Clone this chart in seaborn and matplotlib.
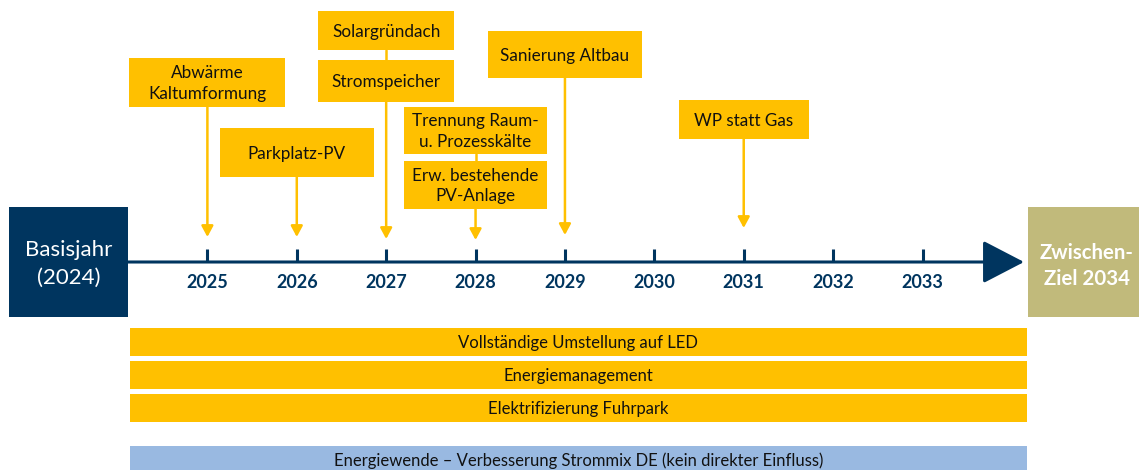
import matplotlib
matplotlib.use("Agg")
import matplotlib.pyplot as plt
import seaborn as sns
import numpy as np
from matplotlib.patches import ArrowStyle

# ---------------- data ----------------
years = [2025, 2026, 2027, 2028, 2029, 2030, 2031, 2032, 2033]
start_label = "Basisjahr\n(2024)"
goal_label = "Zwischen-\nZiel 2034"

event_labels = ["Abwärme\nKaltumformung", "Parkplatz-PV", "Solargründach", "Stromspeicher",
                "Trennung Raum-\nu. Prozesskälte", "Erw. bestehende\nPV-Anlage",
                "Sanierung Altbau", "WP statt Gas"]
event_years = [2025, 2026, 2027, 2027, 2028, 2028, 2029, 2031]

span_labels = ["Vollständige Umstellung auf LED", "Energiemanagement",
               "Elektrifizierung Fuhrpark",
               "Energiewende – Verbesserung Strommix DE (kein direkter Einfluss)"]
span_start = [2024.13, 2024.13, 2024.13, 2024.13]
span_end = [2034.17, 2034.17, 2034.17, 2034.17]

# ---------------- layout / style ----------------
PX_PER_YEAR = 89.39
X0_PX = 118.0           # pixel position of 2024
W, H = 1139, 470
NAVY = "#00355F"
YELLOW = "#FFC000"
OLIVE = "#C1BA7B"
LIGHTBLUE = "#99B9E1"
TXT = "#111111"

def px_w(p):
    return p / PX_PER_YEAR

def px_x(p):
    return 2024 + (p - X0_PX) / PX_PER_YEAR

# event boxes: width(px), top(px), bottom(px)
box_w = [156, 154, 136, 136, 143, 143, 154, 130]
box_top = [58, 128, 11, 60, 107, 161, 31, 100]
box_bot = [107, 177, 50, 102, 154, 209, 78, 139]
arrow_tip = {2025: 237, 2026: 237, 2027: 239, 2028: 240, 2029: 235, 2031: 228}

span_center = [342, 375, 408, 460]
span_colors = [YELLOW, YELLOW, YELLOW, LIGHTBLUE]
SPAN_H = 28

LINE_Y = 262
TICK_TOP = 249
LABEL_Y = 283

sns.set_theme(style="white")
plt.rcParams["font.family"] = ["Lato", "DejaVu Sans"]

fig = plt.figure(figsize=(W / 100, H / 100), dpi=100)
ax = fig.add_axes([0, 0, 1, 1])
ax.set_xlim(px_x(0), px_x(W))
ax.set_ylim(H, 0)
ax.axis("off")

# start / goal boxes
ax.bar(px_x(9), 110, width=px_w(119), bottom=207, align="edge", color=NAVY, lw=0)
ax.text(px_x(69), 264, start_label, ha="center", va="center", color="white",
        fontsize=16, linespacing=1.45)
ax.bar(px_x(1028), 110, width=px_w(120), bottom=207, align="edge", color=OLIVE, lw=0)
ax.text(px_x(1087), 266, goal_label, ha="center", va="center", color="white",
        fontsize=14.7, fontweight="bold", linespacing=1.4)

# timeline line + arrow head
ax.annotate("", xy=(px_x(1024), LINE_Y), xytext=(px_x(128), LINE_Y),
            arrowprops=dict(arrowstyle=ArrowStyle("-|>", head_length=26, head_width=13.5),
                            mutation_scale=1, lw=2.2, color=NAVY,
                            shrinkA=0, shrinkB=0))

# ticks + year labels
for y in years:
    ax.plot([y, y], [TICK_TOP, LINE_Y], color=NAVY, lw=2.2, solid_capstyle="butt")
    ax.text(y, LABEL_Y, str(y), ha="center", va="center", color=NAVY,
            fontsize=13, fontweight="bold")

# event boxes
for lab, yr, w, t, b in zip(event_labels, event_years, box_w, box_top, box_bot):
    ax.bar(yr, b - t, width=px_w(w), bottom=t, color=YELLOW, lw=0)
    ax.text(yr, (t + b) / 2 + 1, lab, ha="center", va="center", color=TXT,
            fontsize=12.3, linespacing=1.35)

# connectors and arrows per year
for yr in sorted(set(event_years)):
    idx = [i for i, e in enumerate(event_years) if e == yr]
    idx.sort(key=lambda i: box_top[i])
    for a, b in zip(idx[:-1], idx[1:]):
        ax.plot([yr, yr], [box_bot[a], box_top[b]], color=YELLOW, lw=1.8)
    last = idx[-1]
    ax.annotate("", xy=(yr, arrow_tip[yr]), xytext=(yr, box_bot[last]),
                arrowprops=dict(arrowstyle=ArrowStyle("-|>", head_length=6.5, head_width=3.5),
                                mutation_scale=1, lw=1.8, color=YELLOW,
                                shrinkA=0, shrinkB=0))

# horizontal spans
for lab, s, e, c, col in zip(span_labels, span_start, span_end, span_center, span_colors):
    ax.barh(c, e - s, left=s, height=SPAN_H, color=col, lw=0)
    ax.text((s + e) / 2, c + 1, lab, ha="center", va="center", color=TXT, fontsize=12)

fig.savefig("out.png", dpi=100)
